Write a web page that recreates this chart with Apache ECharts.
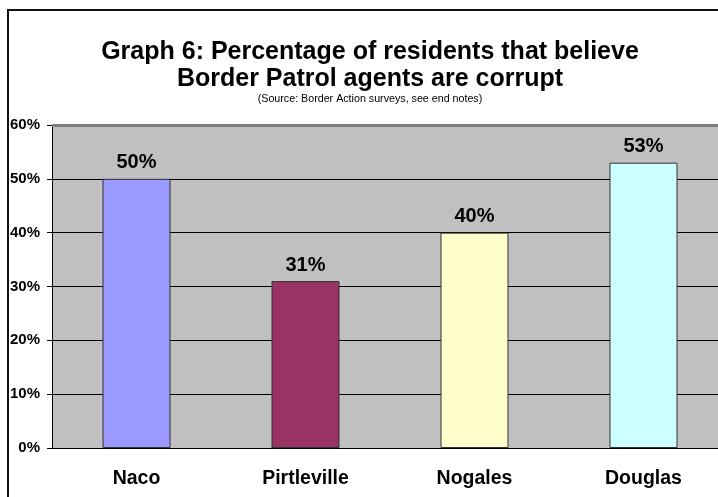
<!DOCTYPE html>
<html><head><meta charset="utf-8">
<script src="https://cdn.jsdelivr.net/npm/echarts@6/dist/echarts.min.js"></script>
<style>html,body{margin:0;padding:0;background:#fff;overflow:hidden}#c{width:728px;height:497px}</style>
</head><body><div id="c"></div>
<script>
const categories = ["Naco", "Pirtleville", "Nogales", "Douglas"];
const values = [50, 31, 40, 53];
const barColors = ["#9999FF", "#993366", "#FFFFCC", "#CCFFFF"];
const yTicks = [0, 10, 20, 30, 40, 50, 60];

const chart = echarts.init(document.getElementById('c'), null, {renderer: 'canvas'});
const F = 'Arial, "Liberation Sans", sans-serif';
chart.setOption({
  animation: false,
  graphic: [
    {type: 'rect', shape: {x: 8, y: 10, width: 740, height: 500}, style: {fill: 'none', stroke: '#111', lineWidth: 2}, z: 10}
  ],
  title: [
    {text: 'Graph 6: Percentage of residents that believe\nBorder Patrol agents are corrupt', left: 365, textAlign: 'center', top: 34,
     textStyle: {fontFamily: F, fontWeight: 'bold', fontSize: 25, lineHeight: 27, color: '#000'}},
    {text: '(Source: Border Action surveys, see end notes)', left: 365, textAlign: 'center', top: 89,
     textStyle: {fontFamily: F, fontWeight: 'normal', fontSize: 10.7, color: '#000'}}
  ],
  grid: {left: 52, right: 0, top: 125, bottom: 49, show: true, backgroundColor: '#C0C0C0', borderColor: '#808080', borderWidth: 0},
  xAxis: {
    type: 'category', data: categories,
    axisLine: {lineStyle: {color: '#000', width: 1}},
    axisTick: {show: false},
    axisLabel: {fontFamily: F, fontWeight: 'bold', fontSize: 19.5, color: '#000', margin: 21}
  },
  yAxis: {
    type: 'value', min: 0, max: 60, interval: 10,
    axisLine: {show: true, lineStyle: {color: '#000'}},
    axisTick: {show: true, length: 5, inside: false, lineStyle: {color: '#000'}},
    splitLine: {show: true, lineStyle: {color: '#000', width: 1}},
    axisLabel: {fontFamily: F, fontWeight: 'bold', fontSize: 15, color: '#000', margin: 12,
      formatter: v => yTicks.includes(v) ? v + '%' : ''}
  },
  series: [{
    type: 'bar',
    data: values.map((v, i) => ({value: v, itemStyle: {color: barColors[i]}})),
    barWidth: 68,
    itemStyle: {borderColor: '#333', borderWidth: 1},
    label: {show: true, position: 'top', distance: 6, formatter: p => p.value + '%',
      fontFamily: F, fontWeight: 'bold', fontSize: 20, color: '#000'}
  }, {
    type: 'line', data: [], markLine: {silent: true, symbol: 'none', label: {show: false},
      lineStyle: {color: '#808080', width: 3, type: 'solid'}, data: [{yAxis: 60}]}
  }]
});
</script></body></html>
